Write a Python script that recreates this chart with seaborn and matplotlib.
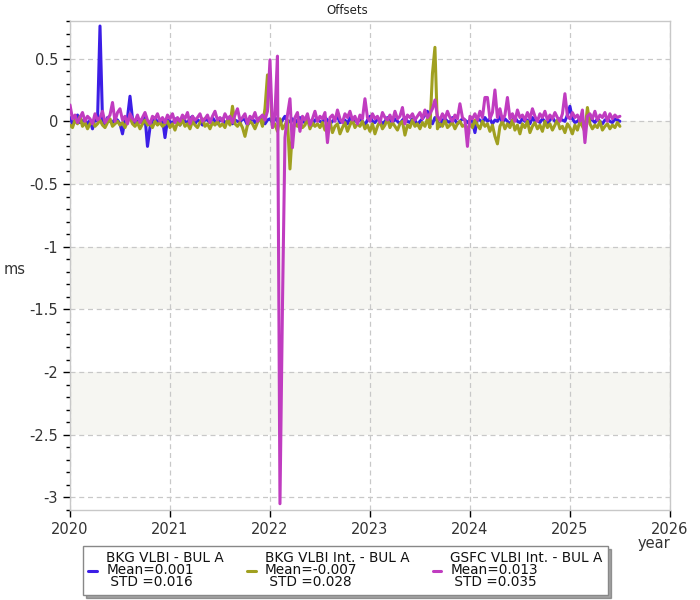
import numpy as np
import pandas as pd
import matplotlib
matplotlib.use('Agg')
import matplotlib.pyplot as plt
from matplotlib.lines import Line2D
from matplotlib.ticker import MultipleLocator, FuncFormatter
import seaborn as sns

# sampling grid of the series (decimal years, 2020.0 .. 2025.5)
START_YEAR = 2020.0
STEP = 0.025

series_names = ['BKG VLBI - BUL A', 'BKG VLBI Int. - BUL A', 'GSFC VLBI Int. - BUL A']
series_means = [0.001, -0.007, 0.013]
series_stds = [0.016, 0.028, 0.035]
series_colors = ['#3c1ee6', '#a0a020', '#c03cc0']

# offsets in ms
bkg_vlbi = [
    0.03, -0.02, 0.01, 0.05, -0.01, 0.00, 0.02, -0.03, 0.01, -0.06, 0.02, 0.00, 0.76, 0.01, -0.02, 0.03, 0.00, -0.01, 0.02, 0.01,
    -0.02, -0.10, 0.01, 0.03, 0.20, 0.02, -0.03, 0.00, 0.01, -0.02, 0.04, -0.20, -0.05, 0.01, 0.03, -0.01, 0.00, 0.02, -0.13, 0.01,
    0.00, -0.02, 0.02, 0.01, -0.03, 0.03, 0.00, -0.01, 0.02, 0.04, -0.02, 0.01, 0.00, -0.03, 0.02, 0.01, -0.01, 0.03, 0.00, -0.02,
    0.01, 0.02, -0.01, 0.00, 0.03, -0.02, 0.01, 0.00, -0.01, 0.02, 0.01, -0.03, 0.00, 0.02, -0.01, 0.01, 0.03, 0.00, -0.02, 0.01,
    0.02, -0.01, 0.03, 0.00, -0.02, 0.01, 0.04, -0.01, 0.00, 0.02, -0.02, 0.01, 0.03, 0.00, -0.01, 0.02, 0.00, -0.03, 0.01, 0.02,
    0.00, -0.01, 0.03, 0.01, -0.02, 0.00, 0.02, 0.04, -0.01, 0.00, 0.01, -0.02, 0.03, 0.00, 0.01, -0.01, 0.02, 0.00, -0.03, 0.01,
    0.04, 0.00, -0.01, 0.02, 0.01, -0.02, 0.00, 0.03, 0.01, -0.01, 0.02, 0.00, -0.02, 0.01, 0.03, 0.00, -0.01, 0.02, 0.01, -0.03,
    0.00, 0.02, 0.05, 0.08, 0.01, -0.02, 0.03, 0.00, -0.04, 0.01, 0.02, 0.00, -0.01, 0.03, 0.01, -0.02, 0.00, 0.02, 0.01, -0.01,
    0.01, 0.00, -0.09, 0.02, 0.01, -0.01, 0.03, 0.00, 0.02, -0.02, 0.01, 0.00, 0.04, -0.01, 0.02, 0.00, -0.02, 0.01, 0.03, 0.00,
    -0.01, 0.02, 0.00, 0.01, -0.02, 0.03, 0.00, 0.01, -0.01, 0.02, 0.00, -0.02, 0.01, 0.03, 0.00, -0.01, 0.02, 0.01, 0.00, 0.05,
    0.12, 0.02, -0.01, 0.00, 0.02, 0.01, -0.02, 0.00, 0.03, 0.01, -0.01, 0.02, 0.00, -0.02, 0.01, 0.02, 0.00, -0.01, 0.02, 0.01,
    0.00,
]

bkg_vlbi_int = [
    -0.03, -0.05, 0.01, -0.02, 0.04, -0.04, -0.01, -0.06, -0.02, 0.00, -0.04, -0.02, 0.01, -0.03, -0.05, -0.01, 0.02, -0.04, -0.02, 0.00,
    -0.03, -0.01, -0.05, 0.00, 0.03, -0.02, -0.04, -0.01, -0.06, -0.02, 0.01, -0.03, -0.02, -0.05, 0.00, -0.03, -0.01, -0.04, -0.02, 0.00,
    -0.05, -0.02, -0.07, -0.01, -0.03, 0.01, -0.04, -0.02, -0.06, 0.00, -0.03, -0.05, -0.01, 0.02, -0.04, -0.02, -0.06, -0.01, -0.03, 0.00,
    -0.04, -0.02, -0.05, 0.01, -0.03, 0.12, -0.02, -0.04, -0.01, -0.05, -0.12, -0.03, 0.00, -0.02, -0.06, -0.01, 0.03, -0.04, 0.10, 0.37,
    0.30, -0.05, -0.02, -0.08, 0.02, -0.06, -0.03, 0.01, -0.38, -0.07, -0.02, -0.04, 0.00, -0.05, -0.03, 0.02, -0.06, -0.01, -0.04, -0.02,
    -0.05, -0.01, -0.07, -0.03, 0.00, -0.09, -0.04, -0.02, -0.10, -0.05, -0.01, -0.08, -0.03, 0.01, -0.05, -0.02, -0.04, 0.00, -0.06, -0.03,
    -0.08, -0.02, -0.10, -0.04, 0.00, -0.06, -0.03, 0.02, -0.05, -0.01, -0.04, -0.07, -0.02, 0.00, -0.11, -0.03, -0.05, 0.01, -0.04, -0.02,
    -0.06, -0.01, -0.04, 0.02, -0.05, 0.38, 0.59, -0.06, -0.02, -0.04, 0.01, -0.05, -0.03, -0.01, -0.06, -0.02, 0.00, -0.04, -0.03, -0.07,
    -0.02, -0.05, 0.01, -0.03, -0.06, 0.00, -0.04, -0.02, -0.08, -0.03, -0.12, -0.18, -0.04, 0.00, -0.06, -0.02, -0.05, 0.01, -0.07, -0.03,
    -0.10, -0.02, -0.05, 0.00, -0.09, -0.04, -0.01, -0.06, -0.03, -0.08, 0.00, -0.05, -0.02, -0.07, -0.03, 0.01, -0.06, -0.04, -0.09, -0.02,
    -0.05, -0.10, -0.03, -0.07, 0.00, -0.04, -0.08, 0.11, -0.02, -0.06, -0.03, -0.05, 0.00, -0.07, -0.04, -0.02, -0.06, -0.03, -0.05, -0.01,
    -0.04,
]

gsfc_vlbi_int = [
    0.13, 0.02, 0.05, -0.01, 0.03, 0.07, 0.00, 0.04, 0.02, -0.02, 0.06, 0.01, 0.03, 0.08, -0.01, 0.02, 0.05, 0.15, 0.00, 0.07,
    0.10, 0.01, 0.04, -0.02, 0.06, 0.02, 0.00, 0.05, -0.01, 0.03, 0.07, 0.01, -0.02, 0.04, 0.02, 0.06, 0.00, 0.03, -0.01, 0.05,
    0.02, 0.06, -0.01, 0.03, 0.00, 0.05, 0.02, 0.07, -0.02, 0.04, 0.01, 0.03, 0.06, 0.00, 0.02, 0.05, -0.01, 0.04, 0.08, 0.01,
    0.03, 0.00, 0.06, 0.02, 0.04, -0.01, 0.05, 0.10, 0.01, 0.03, 0.06, -0.02, 0.04, 0.02, 0.07, 0.00, 0.03, 0.05, 0.01, 0.08,
    0.49, -0.05, 0.06, 0.52, -3.05, -1.47, -0.13, 0.05, 0.18, -0.21, 0.03, 0.07, -0.08, 0.04, 0.01, 0.06, -0.03, 0.02, 0.08, 0.00,
    0.04, 0.02, 0.07, -0.17, 0.03, 0.05, 0.00, 0.09, 0.02, -0.01, 0.06, 0.03, 0.08, 0.01, 0.04, -0.02, 0.05, 0.02, 0.18, 0.03,
    0.00, 0.06, 0.02, 0.04, -0.01, 0.07, 0.03, 0.01, 0.05, 0.00, 0.08, 0.02, 0.04, 0.11, -0.02, 0.05, 0.03, 0.06, 0.01, 0.04,
    0.07, 0.02, 0.09, 0.03, 0.06, 0.10, 0.17, 0.04, 0.01, 0.06, 0.02, 0.08, 0.03, 0.00, 0.05, 0.02, 0.14, 0.03, 0.01, -0.20,
    0.04, 0.02, 0.06, 0.01, 0.08, 0.03, 0.19, 0.19, 0.02, 0.07, 0.25, 0.03, 0.10, 0.01, 0.05, 0.19, 0.02, 0.06, 0.00, 0.09,
    0.03, 0.05, 0.01, 0.07, 0.02, 0.10, 0.04, 0.00, 0.06, 0.03, 0.08, 0.01, 0.05, 0.02, 0.07, 0.03, 0.00, 0.06, 0.22, 0.04,
    0.02, 0.07, 0.03, 0.05, 0.00, 0.09, -0.17, 0.04, 0.06, 0.02, 0.08, 0.01, 0.05, 0.03, 0.07, 0.00, 0.06, 0.02, 0.05, 0.03,
    0.04,
]

epochs = START_YEAR + STEP * np.arange(len(bkg_vlbi))

frames = []
for name, vals in zip(series_names, [bkg_vlbi, bkg_vlbi_int, gsfc_vlbi_int]):
    frames.append(pd.DataFrame({'year': epochs, 'offset': vals, 'series': name}))
df = pd.concat(frames, ignore_index=True)

sns.set_theme(style='white')
plt.rcParams['font.family'] = ['DejaVu Sans']
plt.rcParams['axes.unicode_minus'] = False

fig = plt.figure(figsize=(7, 6), dpi=100)
ax = fig.add_axes([0.1, 0.15, 0.857, 0.815])

# shaded bands between every other grid line
for lo, hi in [(-0.5, 0), (-1.5, -1), (-2.5, -2)]:
    ax.axhspan(lo, hi, color='#f6f6f2', zorder=0, lw=0)

sns.lineplot(data=df, x='year', y='offset', hue='series', hue_order=series_names,
             palette=dict(zip(series_names, series_colors)), estimator=None, sort=False,
             linewidth=2.2, legend=False, ax=ax, zorder=3)

ax.set_xlim(2020, 2026)
ax.set_ylim(-3.1, 0.8)
ax.xaxis.set_major_locator(MultipleLocator(1))
ax.yaxis.set_major_locator(MultipleLocator(0.5))
ax.yaxis.set_minor_locator(MultipleLocator(0.1))
ax.yaxis.set_major_formatter(FuncFormatter(lambda v, p: f'{round(v, 2) + 0:g}'))
ax.xaxis.set_major_formatter(FuncFormatter(lambda v, p: f'{int(round(v))}'))

ax.grid(True, which='major', color='#c8c8c8', linestyle=(0, (4, 3)), linewidth=0.9, zorder=1)
ax.set_axisbelow(True)
ax.tick_params(axis='both', which='major', direction='out', length=5, width=1, color='black',
               labelsize=10.5, labelcolor='#333333', left=True, bottom=True)
ax.tick_params(axis='y', which='minor', direction='out', length=3, width=1, color='black', left=True)
for sp in ax.spines.values():
    sp.set_color('#c8c8c8')
    sp.set_linewidth(1)
ax.set_xlabel('')
ax.set_ylabel('')

fig.text(0.496, 0.983, 'Offsets', ha='center', va='center', fontsize=8.5, color='#222222')
fig.text(0.021, 0.55, 'ms', ha='center', va='center', fontsize=10.5, color='#333333')
fig.text(0.934, 0.094, 'year', ha='center', va='center', fontsize=10.5, color='#333333')

handles = [Line2D([0], [0], color=c, lw=2.2) for c in series_colors]
labels = [f'{n}\nMean={m:.3f}\n STD ={s:.3f}' for n, m, s in zip(series_names, series_means, series_stds)]
leg = fig.legend(handles, labels, loc='upper left', bbox_to_anchor=(0.1186, 0.09), ncol=3,
                 fontsize=9.8, frameon=True, fancybox=False, shadow=True, handlelength=0.65,
                 handletextpad=0.65, columnspacing=1.7, borderpad=0.4, labelspacing=0.2,
                 borderaxespad=0)
leg.get_frame().set_edgecolor('#888888')
leg.get_frame().set_linewidth(1)
for t in leg.get_texts():
    t.set_linespacing(0.82)
    t.set_color('#111111')

fig.savefig('out.png', dpi=100)
